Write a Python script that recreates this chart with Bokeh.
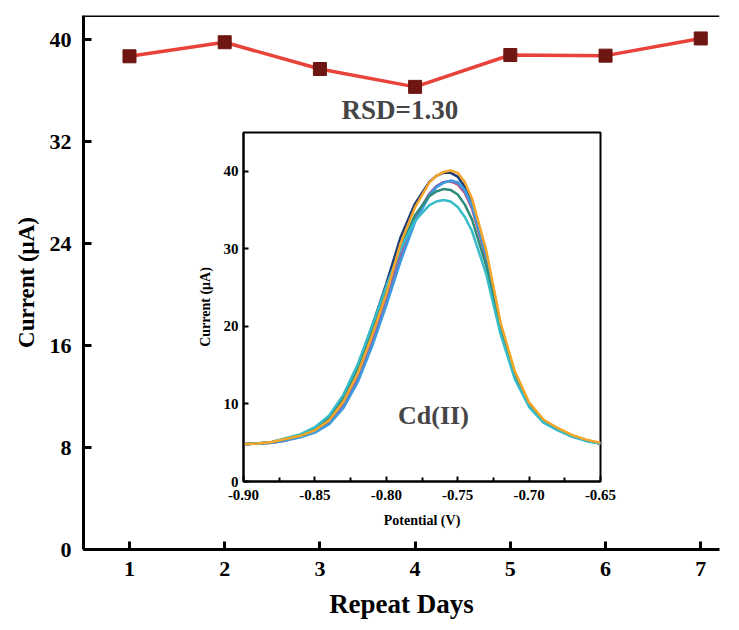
from bokeh.plotting import figure
from bokeh.models import (ColumnDataSource, Range1d, FixedTicker, Span,
                          NumeralTickFormatter, Label, Column)
from bokeh.embed import file_html
from bokeh.resources import INLINE

# ---------------- data ----------------
days = [1, 2, 3, 4, 5, 6, 7]
peak_current = [38.7, 39.8, 37.7, 36.3, 38.8, 38.75, 40.1]
main_yticks = [0, 8, 16, 24, 32, 40]
main_xrange = [0.517, 7.197]
main_yrange = [0, 41.9]

potential = [-0.90, -0.89, -0.88, -0.87, -0.86, -0.85, -0.84, -0.83, -0.82, -0.81,
             -0.80, -0.79, -0.78, -0.77, -0.765, -0.76, -0.755, -0.75, -0.745, -0.74,
             -0.73, -0.72, -0.71, -0.70, -0.69, -0.68, -0.67, -0.66, -0.65]

day1_red = [4.8, 4.9, 5.0, 5.3, 5.8, 6.4, 7.6, 9.8, 13.2, 17.9,
            23.2, 29.0, 33.8, 37.0, 38.0, 38.6, 38.7, 38.3, 37.2, 35.2,
            28.8, 20.0, 13.8, 10.0, 7.9, 6.8, 5.9, 5.3, 4.9]
day2_navy = [4.8, 4.9, 5.1, 5.5, 6.0, 6.8, 8.3, 11.0, 14.9, 20.0,
             25.5, 31.5, 35.8, 38.6, 39.4, 39.8, 39.8, 39.3, 38.0, 35.8,
             29.0, 20.0, 13.7, 9.9, 7.9, 6.8, 5.9, 5.3, 4.9]
day3_teal = [4.8, 4.9, 5.1, 5.5, 6.0, 6.8, 8.2, 10.8, 14.6, 19.5,
             24.8, 30.2, 34.3, 36.8, 37.4, 37.7, 37.6, 37.0, 35.7, 33.8,
             27.8, 19.5, 13.5, 9.8, 7.8, 6.7, 5.8, 5.3, 4.9]
day4_cyan = [4.8, 4.9, 5.1, 5.6, 6.1, 7.0, 8.5, 11.2, 15.1, 20.1,
             25.2, 30.0, 33.6, 35.6, 36.1, 36.3, 36.1, 35.4, 34.1, 32.3,
             26.7, 19.0, 13.2, 9.6, 7.6, 6.6, 5.8, 5.2, 4.9]
day5_blue = [4.8, 4.9, 5.0, 5.3, 5.7, 6.3, 7.4, 9.5, 12.8, 17.4,
             22.7, 28.4, 33.4, 36.8, 37.9, 38.5, 38.8, 38.6, 37.6, 35.6,
             29.2, 20.2, 13.9, 10.0, 7.9, 6.8, 5.9, 5.3, 4.9]
day6_purple = [4.8, 4.9, 5.0, 5.4, 5.8, 6.5, 7.8, 10.0, 13.5, 18.3,
               23.6, 29.4, 34.0, 37.1, 38.1, 38.6, 38.75, 38.4, 37.3, 35.3,
               28.9, 20.0, 13.8, 10.0, 7.9, 6.8, 5.9, 5.3, 4.9]
day7_orange = [4.8, 4.9, 5.1, 5.5, 5.9, 6.6, 7.9, 10.3, 13.9, 18.8,
               24.2, 30.7, 35.3, 38.5, 39.4, 39.9, 40.1, 39.8, 38.6, 36.5,
               29.8, 20.5, 14.2, 10.2, 8.0, 6.9, 6.0, 5.4, 5.0]

inset_xticks = [-0.90, -0.85, -0.80, -0.75, -0.70, -0.65]
inset_xminor = [-0.875, -0.825, -0.775, -0.725, -0.675]
inset_yticks = [0, 10, 20, 30, 40]

curves = [
    (day2_navy, "#1d3c78"),
    (day1_red, "#e8423a"),
    (day6_purple, "#8a6bb8"),
    (day5_blue, "#3a9be0"),
    (day3_teal, "#2e8b78"),
    (day4_cyan, "#38bcc8"),
    (day7_orange, "#f5a527"),
]

FONT = "Liberation Serif"

# ---------------- main figure ----------------
fig = figure(width=739, height=628, x_range=Range1d(*main_xrange), y_range=Range1d(*main_yrange),
             output_backend="svg", toolbar_location=None,
             min_border_left=83, min_border_right=0, min_border_top=15, min_border_bottom=79)
fig.outline_line_color = None
fig.grid.visible = False
fig.background_fill_color = "white"
fig.border_fill_color = "white"

src = ColumnDataSource(dict(x=days, y=peak_current))
fig.line("x", "y", source=src, line_color="#e8423a", line_width=3.5)
fig.scatter("x", "y", source=src, marker="square", size=13,
            fill_color="#6e1612", line_color="#6e1612")

for ax in (fig.xaxis[0], fig.yaxis[0]):
    ax.axis_line_width = 3
    ax.axis_line_color = "black"
    ax.major_tick_line_width = 3
    ax.major_tick_in = 8
    ax.major_tick_out = 0
    ax.minor_tick_line_color = None
    ax.major_label_text_font = FONT
    ax.major_label_text_font_style = "bold"
    ax.major_label_text_font_size = "22px"
    ax.major_label_text_color = "black"
    ax.axis_label_text_font = FONT
    ax.axis_label_text_font_style = "bold"
    ax.axis_label_text_color = "black"

fig.xaxis[0].ticker = FixedTicker(ticks=days)
fig.xaxis[0].major_label_standoff = 12
fig.xaxis[0].axis_label = "Repeat Days"
fig.xaxis[0].axis_label_text_font_size = "27px"
fig.xaxis[0].axis_label_standoff = 10

fig.yaxis[0].ticker = FixedTicker(ticks=main_yticks)
fig.yaxis[0].major_label_standoff = 12
fig.yaxis[0].axis_label = "Current (μA)"
fig.yaxis[0].axis_label_text_font_size = "23px"
fig.yaxis[0].axis_label_standoff = 8

# top border line of the frame
fig.add_layout(Span(location=main_yrange[1], dimension="width",
                    line_color="black", line_width=3))

fig.add_layout(Label(x=3.84, y=34.5, text="RSD=1.30", text_align="center",
                     text_baseline="middle", text_font=FONT, text_font_style="bold",
                     text_font_size="27px", text_color="#454545"))

# ---------------- inset figure ----------------
inset = figure(width=460, height=416, x_range=Range1d(-0.90, -0.65), y_range=Range1d(0, 45),
               output_backend="svg", toolbar_location=None,
               min_border_left=48, min_border_right=20, min_border_top=7, min_border_bottom=60)
inset.grid.visible = False
inset.outline_line_color = "black"
inset.outline_line_width = 2
inset.outline_line_alpha = 1
inset.background_fill_color = "white"
inset.border_fill_alpha = 0

for yvals, col in curves:
    inset.line(potential, yvals, line_color=col, line_width=2.5)

for ax in (inset.xaxis[0], inset.yaxis[0]):
    ax.axis_line_width = 2
    ax.major_tick_line_width = 2
    ax.major_tick_in = 5
    ax.major_tick_out = 0
    ax.minor_tick_line_width = 2
    ax.minor_tick_in = 4
    ax.minor_tick_out = 0
    ax.major_label_text_font = FONT
    ax.major_label_text_font_style = "bold"
    ax.major_label_text_font_size = "15px"
    ax.major_label_text_color = "black"
    ax.axis_label_text_font = FONT
    ax.axis_label_text_font_style = "bold"
    ax.axis_label_text_font_size = "14px"
    ax.axis_label_text_color = "black"

inset.xaxis[0].ticker = FixedTicker(ticks=inset_xticks, minor_ticks=inset_xminor)
inset.xaxis[0].formatter = NumeralTickFormatter(format="0.00")
inset.xaxis[0].major_label_standoff = 8
inset.xaxis[0].axis_label = "Potential (V)"
inset.xaxis[0].axis_label_standoff = 10

inset.yaxis[0].ticker = FixedTicker(ticks=inset_yticks)
inset.yaxis[0].minor_tick_line_color = None
inset.yaxis[0].major_label_standoff = 5
inset.yaxis[0].axis_label = "Current (μA)"
inset.yaxis[0].axis_label_standoff = 8

inset.add_layout(Label(x=-0.767, y=8.5, text="Cd(II)", text_align="center",
                       text_baseline="middle", text_font=FONT, text_font_style="bold",
                       text_font_size="26px", text_color="#454545"))

inset.styles = {"position": "absolute", "left": "160px", "top": "125px"}

p = Column(fig, inset, styles={"overflow": "hidden", "max-width": "739px"})
open("out.html", "w").write(file_html(p, INLINE))
